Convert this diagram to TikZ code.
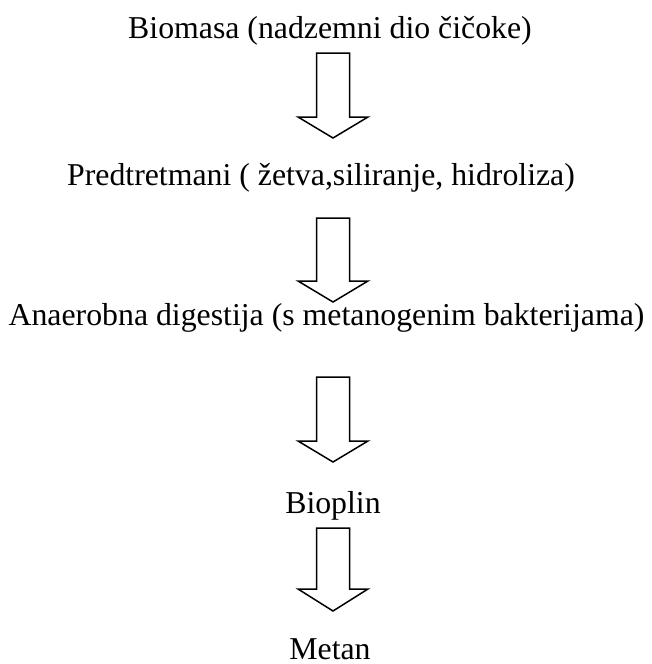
\documentclass[tikz,border=0pt]{standalone}
\usepackage{fontspec}
\setmainfont{Liberation Serif}
\begin{document}
\begin{tikzpicture}[x=1pt,y=-1pt,
  lbl/.style={anchor=base,inner sep=0pt,font=\fontsize{31.8}{38}\selectfont},
  blockarrow/.style={draw=black,line width=1.5pt,line join=miter,fill=white}]
\useasboundingbox (0,0) rectangle (652,664);
\node[lbl] (n1) at (330,38) {Biomasa (nadzemni dio čičoke)};
\node[lbl] (n2) at (321,185) {Predtretmani ( žetva,siliranje, hidroliza)};
\node[lbl] (n3) at (326.5,325) {Anaerobna digestija (s metanogenim bakterijama)};
\node[lbl] (n4) at (333,513) {Bioplin};
\node[lbl] (n5) at (330,659) {Metan};
\newcommand\blkarrow[3]{%
  \draw[blockarrow] (316.5,#1) -- (349.5,#1) -- (349.5,#2) -- (368,#2) -- (333,#3)
    -- (298,#2) -- (316.5,#2) -- cycle;}
\blkarrow{53}{117}{138}
\blkarrow{218}{281}{302}
\blkarrow{377}{441}{462}
\blkarrow{528}{589}{611}
\end{tikzpicture}
\end{document}
